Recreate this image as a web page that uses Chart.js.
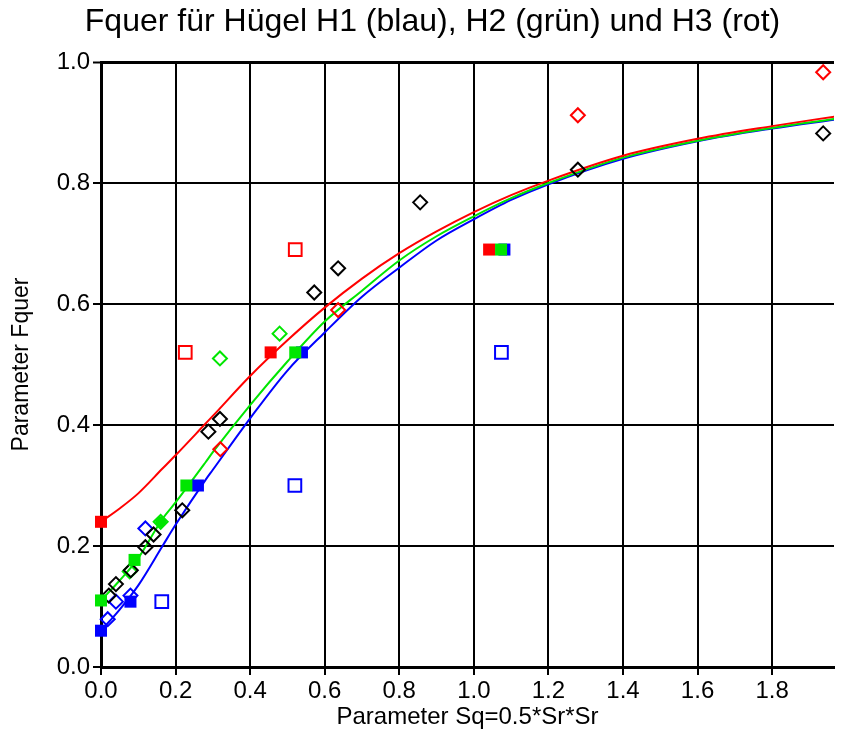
<!DOCTYPE html>
<html>
<head>
<meta charset="utf-8">
<script src="https://cdn.jsdelivr.net/npm/chart.js@4.4.0/dist/chart.umd.min.js"></script>
<style>
  html, body { margin: 0; padding: 0; background: #fff; }
  #wrap { width: 845px; height: 735px; }
</style>
</head>
<body>
<div id="wrap"><canvas id="chart" width="845" height="735"></canvas></div>
<script>
// fitted curves
const curveX     = [0, 0.05, 0.1, 0.165, 0.2, 0.28, 0.3, 0.4, 0.5, 0.6, 0.7, 0.8, 0.9, 1.0, 1.1, 1.2, 1.4, 1.6, 1.8, 1.97];
const redCurve   = [0.24, 0.262, 0.287, 0.328, 0.35, 0.402, 0.415, 0.481, 0.54, 0.594, 0.642, 0.684, 0.72, 0.752, 0.78, 0.804, 0.845, 0.873, 0.894, 0.91];
const greenCurve = [0.11, 0.143, 0.18, 0.245, 0.272, 0.338, 0.355, 0.433, 0.505, 0.571, 0.622, 0.672, 0.712, 0.745, 0.775, 0.8, 0.842, 0.87, 0.891, 0.906];
const blueCurve  = [0.06, 0.095, 0.135, 0.2, 0.235, 0.309, 0.326, 0.411, 0.49, 0.553, 0.612, 0.66, 0.705, 0.74, 0.772, 0.798, 0.84, 0.869, 0.89, 0.905];

// filled squares
const redFilledX   = [0, 0.455, 1.041];
const redFilledY   = [0.24, 0.52, 0.69];
const greenFilledX = [0, 0.09, 0.229, 0.521, 1.073];
const greenFilledY = [0.11, 0.177, 0.30, 0.52, 0.69];
const blueFilledX  = [0, 0.079, 0.26, 0.539, 1.082];
const blueFilledY  = [0.06, 0.108, 0.30, 0.52, 0.69];
const greenDotX    = [0.16];
const greenDotY    = [0.24];

// open squares
const redOpenX  = [0.226, 0.521];
const redOpenY  = [0.52, 0.69];
const blueOpenX = [0.163, 0.52, 1.074];
const blueOpenY = [0.108, 0.30, 0.52];

// open diamonds
const redDiaX   = [0.32, 0.636, 1.279, 1.937];
const redDiaY   = [0.36, 0.59, 0.912, 0.983];
const greenDiaX = [0.077, 0.16, 0.319, 0.479];
const greenDiaY = [0.158, 0.24, 0.51, 0.551];
const blueDiaX  = [0.018, 0.04, 0.079, 0.119];
const blueDiaY  = [0.079, 0.108, 0.118, 0.229];
const blackDiaX = [0.021, 0.04, 0.08, 0.119, 0.141, 0.218, 0.288, 0.319, 0.572, 0.636, 0.856, 1.279, 1.937];
const blackDiaY = [0.118, 0.137, 0.16, 0.198, 0.219, 0.259, 0.389, 0.41, 0.619, 0.659, 0.768, 0.822, 0.882];

const xTicks = [0, 0.2, 0.4, 0.6, 0.8, 1.0, 1.2, 1.4, 1.6, 1.8];
const yTicks = [0, 0.2, 0.4, 0.6, 0.8, 1.0];

const RED = '#ff0000', GREEN = '#00e600', BLUE = '#0000ff', BLACK = '#000000';
const FONT = "'Liberation Sans', Arial, Helvetica, sans-serif";

function pts(xs, ys) {
    return xs.map((x, i) => ({ x: x, y: ys[i] }));
}

function curve(label, ys, color, order) {
    return {
        type: 'line', label: label, data: pts(curveX, ys),
        borderColor: color, borderWidth: 2, pointRadius: 0,
        cubicInterpolationMode: 'monotone', fill: false, order: order
    };
}

function marks(label, xs, ys, style, color, filled, r, order) {
    return {
        type: 'scatter', label: label, data: pts(xs, ys),
        pointStyle: style, pointRadius: r, pointHoverRadius: r,
        pointBorderColor: color, pointBackgroundColor: filled ? color : 'rgba(0,0,0,0)',
        pointBorderWidth: filled ? 0 : 2, order: order, clip: false
    };
}

const datasets = [
    marks('H2 gefüllt', greenFilledX, greenFilledY, 'rect', GREEN, true, 8.5, 0),
    marks('H1 gefüllt', blueFilledX, blueFilledY, 'rect', BLUE, true, 8.5, 1),
    marks('H3 gefüllt', redFilledX, redFilledY, 'rect', RED, true, 8.5, 2),
    marks('H2 Punkt', greenDotX, greenDotY, 'circle', GREEN, true, 5.5, 3),
    marks('H3 offen', redOpenX, redOpenY, 'rect', RED, false, 9, 4),
    marks('H1 offen', blueOpenX, blueOpenY, 'rect', BLUE, false, 9, 5),
    marks('Messung', blackDiaX, blackDiaY, 'rectRot', BLACK, false, 7, 6),
    marks('H3 Raute', redDiaX, redDiaY, 'rectRot', RED, false, 7, 7),
    marks('H2 Raute', greenDiaX, greenDiaY, 'rectRot', GREEN, false, 7, 8),
    marks('H1 Raute', blueDiaX, blueDiaY, 'rectRot', BLUE, false, 7, 9),
    curve('H3', redCurve, RED, 10),
    curve('H2', greenCurve, GREEN, 11),
    curve('H1', blueCurve, BLUE, 12)
];

new Chart(document.getElementById('chart').getContext('2d'), {
    data: { datasets: datasets },
    options: {
        responsive: false,
        animation: false,
        events: [],
        // left padding shifts the title centre; the y axis box is shrunk to keep the plot at x=101
        layout: { padding: { left: 20, right: 0, top: 0, bottom: 0 } },
        plugins: {
            legend: { display: false },
            tooltip: { enabled: false },
            title: {
                display: true,
                text: 'Fquer für Hügel H1 (blau), H2 (grün) und H3 (rot)',
                color: BLACK,
                font: { family: FONT, size: 32, weight: 'normal', lineHeight: 1.2 },
                padding: { top: 3, bottom: 20.6 }
            }
        },
        scales: {
            x: {
                type: 'linear', min: 0, max: 1.966,
                afterFit: s => { s.height = 68; },
                afterBuildTicks: s => { s.ticks = xTicks.map(v => ({ value: v })); },
                ticks: {
                    color: BLACK, padding: 2, maxRotation: 0,
                    font: { family: FONT, size: 24 },
                    callback: v => v.toFixed(1)
                },
                grid: { color: BLACK, lineWidth: 2, tickLength: 8, tickWidth: 2, tickColor: BLACK },
                border: { color: BLACK, width: 3 },
                title: {
                    display: true, text: 'Parameter Sq=0.5*Sr*Sr', color: BLACK,
                    font: { family: FONT, size: 24, lineHeight: 1.2 },
                    padding: { top: 0, bottom: 3 }
                }
            },
            y: {
                type: 'linear', min: 0, max: 1,
                afterFit: s => { s.width = 81; },
                afterBuildTicks: s => { s.ticks = yTicks.map(v => ({ value: v })); },
                ticks: {
                    color: BLACK, padding: 3,
                    font: { family: FONT, size: 24 },
                    callback: v => v.toFixed(1)
                },
                grid: {
                    color: BLACK, tickLength: 8, tickWidth: 2, tickColor: BLACK,
                    lineWidth: c => (c.tick && c.tick.value === 1 ? 3 : 2)
                },
                border: { color: BLACK, width: 3 },
                title: {
                    display: true, text: 'Parameter Fquer', color: BLACK,
                    font: { family: FONT, size: 23, lineHeight: 1.2 },
                    padding: { top: -12, bottom: 0 }
                }
            }
        }
    }
});
</script>
</body>
</html>
